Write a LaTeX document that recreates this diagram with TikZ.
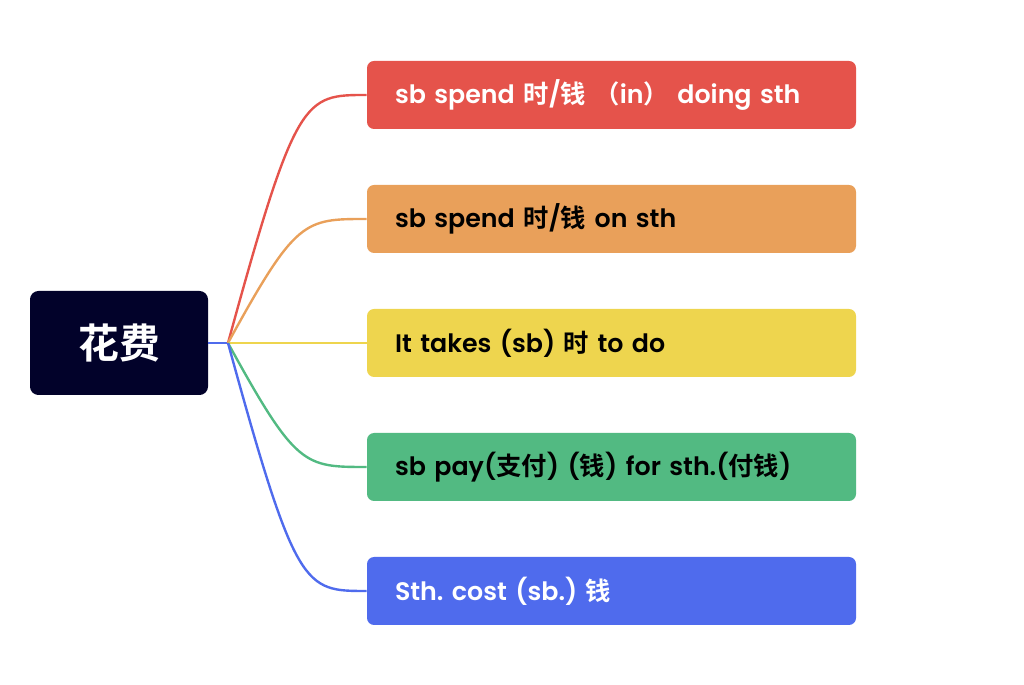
\documentclass[tikz,border=0pt]{standalone}
\usepackage{fontspec}
\setmainfont{Poppins}[UprightFont={* Medium}, BoldFont={* SemiBold}]
\newfontfamily\cjk{Noto Sans CJK SC}[BoldFont={* Bold}]
\usepackage{tikz}
\usetikzlibrary{positioning,calc}
\usepackage{xcolor}
\frenchspacing

\begin{document}
\begin{tikzpicture}[
    rootbox/.style={
        rounded corners=6pt, minimum width=4.45cm, minimum height=2.6cm,
        font=\cjk\fontsize{29}{34}\selectfont\bfseries, text=white, inner sep=0pt
    },
    bbox/.style={
        rounded corners=5pt, minimum height=1.7cm, text width=10.825cm,
        inner xsep=0.7cm, inner ysep=0pt, align=left,
        font=\fontsize{18}{21}\selectfont\bfseries
    },
    link/.style={line width=1.7pt}
]

% Branch colors (top to bottom)
\definecolor{rootc}{HTML}{02022A}
\definecolor{b1c}{HTML}{E5534B}
\definecolor{b2c}{HTML}{E9A05A}
\definecolor{b3c}{HTML}{EED54E}
\definecolor{b4c}{HTML}{52BA82}
\definecolor{b5c}{HTML}{4F6BED}

\useasboundingbox (0,0) rectangle (25.6,17.125);

% Root topic and fork point
\node[rootbox, fill=rootc] (root) at (2.975, 8.55) {花费};
\coordinate (fork) at (5.7, 8.55);

% Branches (top = 1)
\node[bbox, fill=b1c, text=white] (b1) at (15.2875, 14.75) {sb spend {\cjk 时}/{\cjk 钱} {\cjk （}in{\cjk ）} doing sth};
\node[bbox, fill=b2c, text=black] (b2) at (15.2875, 11.65) {sb spend {\cjk 时}/{\cjk 钱} on sth};
\node[bbox, fill=b3c, text=black] (b3) at (15.2875,  8.55) {It takes (sb) {\cjk 时} to do};
\node[bbox, fill=b4c, text=black] (b4) at (15.2875,  5.45) {sb pay({\cjk 支付}) ({\cjk 钱}) for sth.({\cjk 付钱})};
\node[bbox, fill=b5c, text=white] (b5) at (15.2875,  2.35) {Sth. cost (sb.) {\cjk 钱}};

% Connectors from the fork point
\draw[link, b5c] (root.east) -- (fork);
\draw[link, b1c] (fork) .. controls (7.4,14.75) and (7.6,14.75) .. (b1.west);
\draw[link, b2c] (fork) .. controls (7.4,11.65) and (7.6,11.65) .. (b2.west);
\draw[link, b3c] (fork) -- (b3.west);
\draw[link, b4c] (fork) .. controls (7.4,5.45) and (7.6,5.45) .. (b4.west);
\draw[link, b5c] (fork) .. controls (7.4,2.35) and (7.6,2.35) .. (b5.west);

\end{tikzpicture}
\end{document}
